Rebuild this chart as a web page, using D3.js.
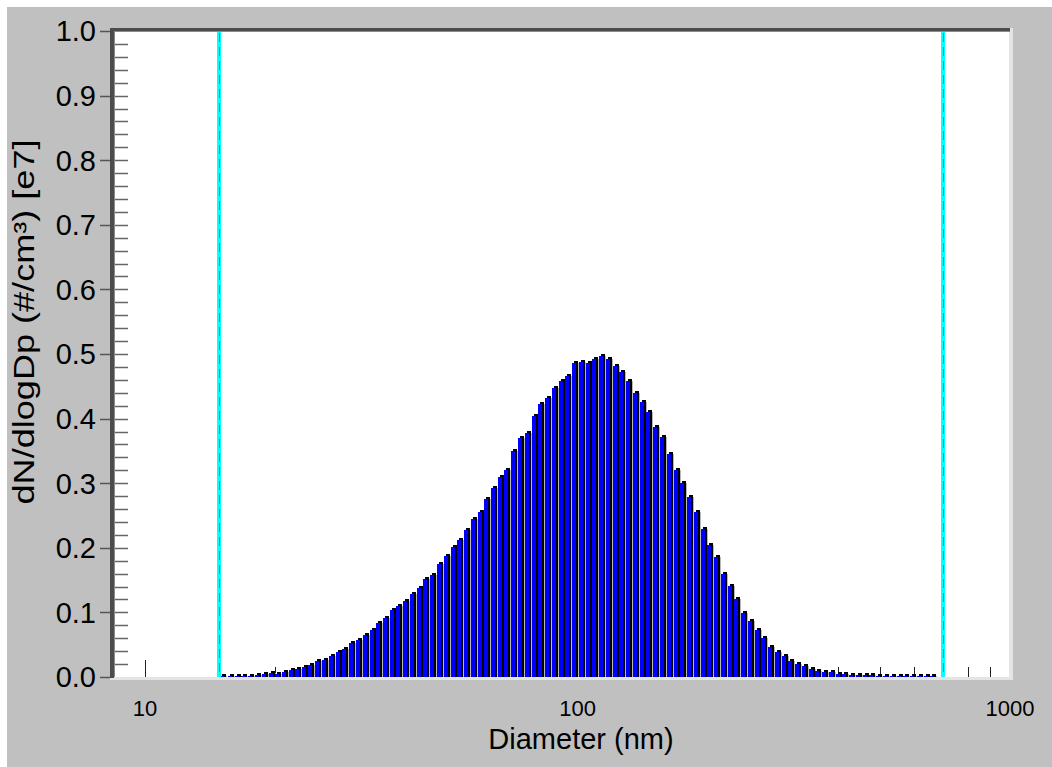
<!DOCTYPE html>
<html><head><meta charset="utf-8">
<script src="https://cdn.jsdelivr.net/npm/d3@7"></script>
<style>body{margin:0;background:#fff}svg{display:block}text{font-family:Arial,"Liberation Sans",sans-serif}</style>
</head><body><svg id="c" width="1052" height="767"></svg>
<script>
const diameters=[15.1,15.7,16.3,16.8,17.5,18.1,18.8,19.5,20.2,20.9,
21.7,22.5,23.3,24.1,25.0,25.9,26.9,27.9,28.9,30.0,
31.1,32.2,33.4,34.6,35.9,37.2,38.5,40.0,41.4,42.9,
44.5,46.1,47.8,49.6,51.4,53.3,55.2,57.3,59.4,61.5,
63.8,66.1,68.5,71.0,73.7,76.4,79.1,82.0,85.1,88.2,
91.4,94.7,98.2,101.8,105.5,109.4,113.4,117.6,121.9,126.3,
131.0,135.8,140.7,145.9,151.2,156.8,162.5,168.5,174.7,181.1,
187.7,194.6,201.7,209.1,216.7,224.7,232.9,241.4,250.3,259.5,
269.0,278.8,289.0,299.6,310.6,322.0,333.8,346.0,358.7,371.8,
385.4,399.5,414.2,429.4,445.1,461.4,478.3,495.8,514.0,532.8,
552.3,572.5,593.5,615.3,637.8,661.2];
const dNdlogDp=[0.002,0.0015,0.0015,0.0015,0.0015,0.003,0.005,0.006,0.004,0.008,
0.011,0.013,0.015,0.019,0.024,0.027,0.032,0.038,0.043,0.053,
0.057,0.065,0.073,0.083,0.091,0.103,0.110,0.118,0.128,0.138,
0.151,0.158,0.175,0.187,0.201,0.212,0.228,0.244,0.256,0.276,
0.293,0.309,0.321,0.350,0.370,0.378,0.404,0.422,0.432,0.448,
0.458,0.466,0.486,0.488,0.486,0.493,0.497,0.492,0.482,0.472,
0.458,0.440,0.426,0.410,0.387,0.371,0.345,0.321,0.301,0.278,
0.256,0.229,0.205,0.186,0.160,0.141,0.120,0.099,0.086,0.073,
0.060,0.046,0.039,0.032,0.024,0.020,0.017,0.013,0.010,0.008,
0.007,0.005,0.004,0.003,0.0025,0.0025,0.0025,0.002,0.002,0.002,
0.002,0.002,0.002,0.002,0.002,0.002];
const yTickValues=[0,0.1,0.2,0.3,0.4,0.5,0.6,0.7,0.8,0.9,1.0];
const yTickLabels=["0.0","0.1","0.2","0.3","0.4","0.5","0.6","0.7","0.8","0.9","1.0"];
const xTickValues=[10,100,1000];
const xTickLabels=["10","100","1000"];
const xMinorTicks=[10,20,30,40,50,60,70,80,90,100,200,300,400,500,600,700,800,900,1000];
const cursorDiameters=[14.8,700];
const xTitle="Diameter (nm)";
const yTitle="dN/dlogDp (#/cm³) [e7]";

const svg=d3.select("#c");
const L=113,R=1010,T=31,B=677;
const x=d3.scaleLog().domain([8.43,1000]).range([L,R]);
const y=d3.scaleLinear().domain([0,1]).range([B,T]);

// background panel
svg.append("rect").attr("x",7).attr("y",7).attr("width",1045).attr("height",760).attr("fill","#c0c0c0");
// plot area
svg.append("rect").attr("x",112).attr("y",29).attr("width",898).attr("height",650).attr("fill","#fff");

// x minor ticks (behind bars)
svg.append("g").selectAll("line").data(xMinorTicks).join("line")
 .attr("x1",d=>Math.round(x(d))+0.5).attr("x2",d=>Math.round(x(d))+0.5)
 .attr("y1",B).attr("y2",d=>B-([10,100,1000].includes(d)?17:10))
 .attr("stroke","#222").attr("stroke-width",1);

// bars
const data=diameters.map((d,i)=>({d,v:dNdlogDp[i]}));
const gb=svg.append("g");
gb.selectAll("rect.sh").data(data).join("rect").attr("class","sh")
 .attr("x",p=>Math.round(x(p.d))).attr("y",p=>Math.round(y(p.v))-2)
 .attr("width",4).attr("height",p=>B-Math.round(y(p.v))+2).attr("fill","#000");
gb.selectAll("rect.gl").data(data).join("rect").attr("class","gl")
 .attr("x",p=>Math.round(x(p.d))+4).attr("y",p=>Math.round(y(p.v)))
 .attr("width",1).attr("height",p=>B-Math.round(y(p.v))).attr("fill","#b8b8b8");
gb.selectAll("rect.bl").data(data).join("rect").attr("class","bl")
 .attr("x",p=>Math.round(x(p.d))-2).attr("y",p=>Math.round(y(p.v)))
 .attr("width",4).attr("height",p=>B-Math.round(y(p.v))).attr("fill","#0000ff");

// cursor lines
const gc=svg.append("g");
gc.selectAll("rect").data(cursorDiameters).join("rect")
 .attr("x",d=>Math.round(x(d))-2).attr("y",T).attr("width",4).attr("height",B-T).attr("fill","#00ffff");
gc.selectAll("line").data(cursorDiameters).join("line")
 .attr("x1",d=>Math.round(x(d))+0.5).attr("x2",d=>Math.round(x(d))+0.5)
 .attr("y1",T+2).attr("y2",B).attr("stroke","#c8504a").attr("stroke-width",1).attr("stroke-dasharray","9,5");

// frame
svg.append("rect").attr("x",110).attr("y",677).attr("width",903).attr("height",3).attr("fill","#e4e4e4");
svg.append("rect").attr("x",1009).attr("y",28).attr("width",4).attr("height",652).attr("fill","#e4e4e4");
svg.append("rect").attr("x",110).attr("y",28).attr("width",900).attr("height",3).attr("fill","#4c4c4c");
svg.append("rect").attr("x",110).attr("y",31).attr("width",900).attr("height",1).attr("fill","#8a8a8a");
svg.append("rect").attr("x",110).attr("y",28).attr("width",4).attr("height",650).attr("fill","#4c4c4c");
svg.append("rect").attr("x",114).attr("y",31).attr("width",1).attr("height",646).attr("fill","#8a8a8a");

// y inner minor ticks
const yMinor=d3.range(1,50).map(i=>i/50);
svg.append("g").selectAll("line").data(yMinor).join("line")
 .attr("x1",115).attr("x2",128).attr("y1",d=>Math.round(y(d))+0.5).attr("y2",d=>Math.round(y(d))+0.5)
 .attr("stroke","#666").attr("stroke-width",1.5);
// y major outer ticks
svg.append("g").selectAll("line").data(yTickValues).join("line")
 .attr("x1",100).attr("x2",110).attr("y1",d=>Math.round(y(d))+0.5).attr("y2",d=>Math.round(y(d))+0.5)
 .attr("stroke","#555").attr("stroke-width",1.5);
// y labels
svg.append("g").selectAll("text").data(yTickValues).join("text")
 .attr("x",96).attr("y",d=>y(d)).attr("dy","0.36em").attr("text-anchor","end")
 .attr("font-size",29).attr("fill","#000").text((d,i)=>yTickLabels[i]);
// x labels
svg.append("g").selectAll("text").data(xTickValues).join("text")
 .attr("x",d=>x(d)).attr("y",716).attr("text-anchor","middle")
 .attr("font-size",22).attr("fill","#000").text((d,i)=>xTickLabels[i]);
// titles
svg.append("text").attr("x",581).attr("y",749).attr("text-anchor","middle").attr("font-size",29).attr("fill","#000").text(xTitle);
svg.append("text").attr("transform","translate(34,322) rotate(-90)").attr("text-anchor","middle")
 .attr("font-size",29).attr("textLength",365).attr("lengthAdjust","spacingAndGlyphs").attr("fill","#000").text(yTitle);
</script></body></html>
